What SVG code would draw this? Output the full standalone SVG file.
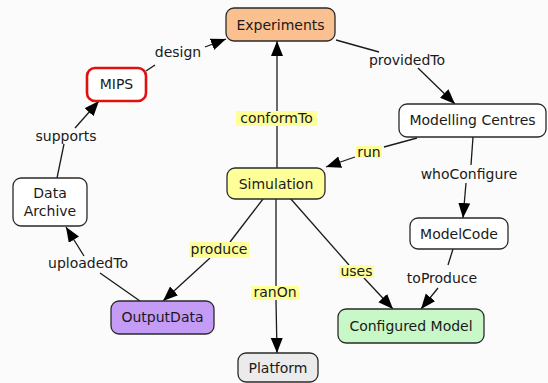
<svg xmlns="http://www.w3.org/2000/svg" width="548" height="383" viewBox="0 0 548 383">
<style>
text{font-family:"DejaVu Sans",Verdana,sans-serif;font-size:14px;fill:#1a1a1a;text-anchor:middle}
.node rect{stroke:#2a2a2a;stroke-width:1.3}
.conn line{stroke:#1a1a1a;stroke-width:1.3}
.hl{fill:#ffff99}
</style>
<defs>
<marker id="ah" markerUnits="userSpaceOnUse" markerWidth="16" markerHeight="14" refX="15" refY="6" orient="auto">
<path d="M0,0 L15,6 L0,12 Z" fill="#000"/>
</marker>
</defs>
<rect width="548" height="383" fill="#fbfbfb"/>
<g id="connectors" class="conn">
<line x1="146" y1="71" x2="155" y2="65"/>
<line x1="205" y1="47" x2="226" y2="39" marker-end="url(#ah)"/>
<line x1="57" y1="178" x2="64" y2="144"/>
<line x1="75" y1="128" x2="99" y2="101" marker-end="url(#ah)"/>
<line x1="336" y1="40" x2="379" y2="52"/>
<line x1="418" y1="68" x2="455" y2="104" marker-end="url(#ah)"/>
<line x1="277" y1="168" x2="277" y2="126"/>
<line x1="277" y1="111" x2="277" y2="41" marker-end="url(#ah)"/>
<line x1="417" y1="138" x2="384" y2="147"/>
<line x1="355" y1="157" x2="326" y2="167" marker-end="url(#ah)"/>
<line x1="473" y1="137" x2="471" y2="165"/>
<line x1="466" y1="183" x2="463" y2="218" marker-end="url(#ah)"/>
<line x1="453" y1="249" x2="448" y2="265"/>
<line x1="438" y1="288" x2="421" y2="309" marker-end="url(#ah)"/>
<line x1="290" y1="198" x2="349" y2="265"/>
<line x1="364" y1="278" x2="393" y2="309" marker-end="url(#ah)"/>
<line x1="263" y1="199" x2="230" y2="242"/>
<line x1="210" y1="258" x2="163" y2="301" marker-end="url(#ah)"/>
<line x1="276" y1="199" x2="276" y2="286"/>
<line x1="276" y1="300" x2="277" y2="353" marker-end="url(#ah)"/>
<line x1="140" y1="301" x2="100" y2="273"/>
<line x1="84" y1="256" x2="66" y2="227" marker-end="url(#ah)"/>
</g>
<g id="labels">
<text x="178" y="57">design</text>
<text x="66" y="141">supports</text>
<text x="407" y="65">providedTo</text>
<rect class="hl" x="236" y="111" width="81" height="15"/>
<text x="276.5" y="123">conformTo</text>
<rect class="hl" x="356" y="146" width="26" height="12"/>
<text x="369" y="157">run</text>
<text x="469" y="179">whoConfigure</text>
<text x="442" y="283">toProduce</text>
<rect class="hl" x="339" y="265" width="35" height="13"/>
<text x="356.5" y="276">uses</text>
<rect class="hl" x="189" y="242" width="60" height="16"/>
<text x="219" y="254">produce</text>
<rect class="hl" x="251" y="286" width="48" height="14"/>
<text x="275" y="297">ranOn</text>
<text x="88" y="268">uploadedTo</text>
</g>
<g id="experiments" class="node"><rect x="226" y="8" width="109" height="33" rx="8" fill="#fac090"/><text x="280.5" y="30">Experiments</text></g>
<g id="mips" class="node"><rect x="87" y="68" width="59" height="33" rx="8" fill="#fff" style="stroke:#e01010;stroke-width:2.6"/><text x="116.5" y="89">MIPS</text></g>
<g id="modelling-centres" class="node"><rect x="399" y="104" width="147" height="33" rx="8" fill="#fff"/><text x="472.5" y="125">Modelling Centres</text></g>
<g id="simulation" class="node"><rect x="227" y="168" width="98" height="31" rx="8" fill="#ffff99"/><text x="276" y="189">Simulation</text></g>
<g id="data-archive" class="node"><rect x="13" y="178" width="74" height="48" rx="8" fill="#fff"/><text x="50" y="198">Data</text><text x="50" y="216">Archive</text></g>
<g id="modelcode" class="node"><rect x="410" y="218" width="98" height="31" rx="8" fill="#fff"/><text x="459" y="239">ModelCode</text></g>
<g id="outputdata" class="node"><rect x="111" y="301" width="103" height="33" rx="8" fill="#c49bf5"/><text x="162.5" y="322">OutputData</text></g>
<g id="configured-model" class="node"><rect x="338" y="309" width="146" height="34" rx="8" fill="#c8f8c8"/><text x="411" y="331">Configured Model</text></g>
<g id="platform" class="node"><rect x="238" y="353" width="80" height="29" rx="8" fill="#ebebeb"/><text x="278" y="373">Platform</text></g>
</svg>
